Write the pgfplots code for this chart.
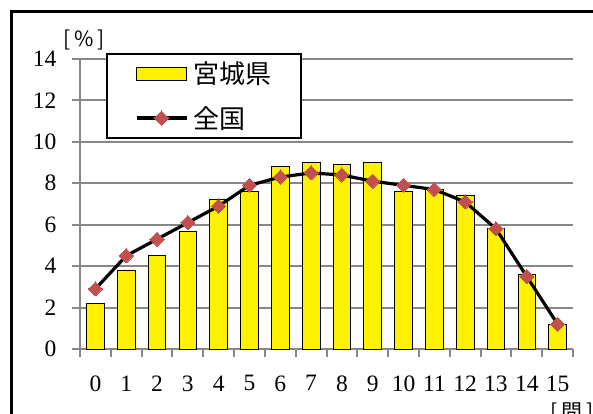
\documentclass[border=0pt]{standalone}
\usepackage{pgfplots}
\pgfplotsset{compat=1.18}
\usepackage{fontspec}
\setmainfont{Liberation Serif}
\newfontfamily\jp{Noto Sans CJK JP}
\definecolor{gridgray}{HTML}{878787}
\definecolor{mkred}{HTML}{C0504D}
\pgfplotsset{
  barleg/.style={legend image code/.code={\draw[fill=yellow,draw=black,line width=0.8pt] (0pt,-6.5pt) rectangle (50pt,6.5pt);}},
  lineleg/.style={legend image code/.code={\draw[##1, mark repeat=2, mark phase=2] plot coordinates {(0pt,0pt) (25pt,0pt) (50pt,0pt)};}},
}
\begin{document}
\begin{tikzpicture}[x=1pt,y=1pt]
\useasboundingbox (0,0) rectangle (593,414);
\draw[line width=3pt] (11,-5) -- (11,402) -- (600,402);
\begin{axis}[
  at={(80pt,65pt)}, anchor=south west,
  scale only axis, width=493pt, height=290pt,
  xmin=-0.5, xmax=15.5, ymin=0, ymax=14,
  axis lines*=left,
  axis line style={gridgray, line width=2pt},
  xtick={0,...,15},
  minor xtick={-0.5,0.5,...,15.5},
  ytick={0,2,...,14},
  tick align=outside,
  major tick length=8pt, minor tick length=8pt,
  major x tick style={draw=none},
  minor x tick style={gridgray, line width=2pt},
  major y tick style={gridgray, line width=2pt},
  ymajorgrids,
  grid style={gridgray, line width=2pt},
  /pgf/number format/assume math mode=true,
  xticklabel style={font=\fontsize{23.5}{26}\selectfont, yshift=-15pt},
  every y tick label/.append style={font=\fontsize{23.5}{26}\selectfont, anchor=east, xshift=-12pt},
  legend style={at={(0.0527,1.021)}, anchor=north west, draw=black, line width=2pt,
    font=\jp\fontsize{26}{30}\selectfont, inner xsep=28pt, inner ysep=6pt, row sep=17pt,
    column sep=3pt},
  legend cell align=left,
  clip=false,
]
\addplot[ybar, bar width=17.7pt, fill=yellow, draw=black, line width=0.8pt, barleg]
  coordinates {(0,2.2) (1,3.8) (2,4.5) (3,5.7) (4,7.2) (5,7.6) (6,8.8) (7,9.0)
               (8,8.9) (9,9.0) (10,7.6) (11,7.7) (12,7.4) (13,5.8) (14,3.6) (15,1.2)};
\addlegendentry{宮城県}
\addplot[black, line width=3.2pt, mark=square*, mark size=5pt,
  mark options={fill=mkred, draw=mkred, line width=0pt, rotate=45}, lineleg]
  coordinates {(0,2.9) (1,4.5) (2,5.3) (3,6.1) (4,6.9) (5,7.9) (6,8.3) (7,8.5)
               (8,8.4) (9,8.1) (10,7.9) (11,7.7) (12,7.1) (13,5.8) (14,3.5) (15,1.2)};
\addlegendentry{全国}
\end{axis}
\node[font=\jp\fontsize{21}{24}\selectfont] at (84,374) {[\,\%\,]};
\node[font=\jp\fontsize{21}{24}\selectfont] at (572,1) {[\,問\,]};
\end{tikzpicture}
\end{document}
